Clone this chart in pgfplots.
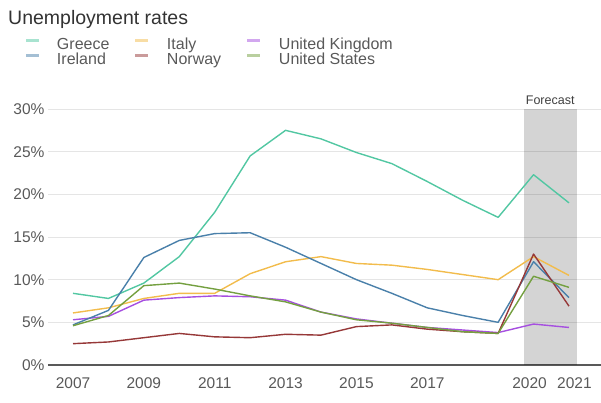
\documentclass[border=0pt]{standalone}
\usepackage{pgfplots}
\pgfplotsset{compat=1.18}
\usepackage{fontspec}
\setmainfont{Liberation Sans}
\definecolor{cGreece}{HTML}{52C7A2}
\definecolor{cIreland}{HTML}{4A80AA}
\definecolor{cItaly}{HTML}{F2BC4C}
\definecolor{cNorway}{HTML}{963838}
\definecolor{cUK}{HTML}{A64FE0}
\definecolor{cUS}{HTML}{74A040}
\begin{document}
\begin{tikzpicture}
\path[use as bounding box] (-48pt,-37pt) rectangle (553pt,365pt);
\node[anchor=base west, font=\fontsize{19.5}{20}\selectfont, text=black!80, inner sep=0pt] at (-40pt,340pt) {Unemployment rates};
\begin{axis}[
  scale only axis, width=553pt, height=256pt,
  xmin=2006.294, xmax=2021.904, ymin=0, ymax=30,
  clip=false,
  axis line style={draw=none},
  ytick={0,5,10,15,20,25,30},
  yticklabel={\pgfmathprintnumber{\tick}\%},
  xtick={2007,2009,2011,2013,2015,2017,2020,2021},
  xticklabels={2007,2009,2011,2013,2015,2017,{2020\hspace*{8pt}},{\hspace*{11pt}2021}},
  major tick length=0pt,
  ymajorgrids,
  grid style={color=black!10, line width=0.9pt},
  extra y ticks={0}, extra y tick labels={},
  extra y tick style={grid style={color=black!65, line width=1.8pt}},
  tick label style={font=\fontsize{15.5}{16}\selectfont, text=black!65},
  xticklabel style={yshift=-9pt},
  /pgf/number format/assume math mode=true,
  legend columns=3,
  legend style={at={(-0.0416,1.2793)}, anchor=north west, draw=none, fill=none,
    inner sep=0pt, outer sep=0pt, row sep=0pt, column sep=0pt,
    font=\fontsize{16}{16}\selectfont, text=black!65,
    nodes={inner sep=0pt, text height=12pt, text depth=3pt}},
  legend image code/.code={\draw[#1, line width=3pt, draw opacity=0.5] (0pt,4pt) -- (13pt,4pt);},
  every axis plot/.append style={line width=1.4pt, line join=round, no marks},
]
\fill[black, fill opacity=0.17] (axis cs:2019.72,0) rectangle (axis cs:2021.23,30);
\node[anchor=base, font=\fontsize{12.5}{13}\selectfont, text=black!75] at (axis cs:2020.47,30.55) {Forecast};

\addplot[cGreece] coordinates {(2007,8.4)(2008,7.8)(2009,9.6)(2010,12.7)(2011,17.9)(2012,24.5)(2013,27.5)(2014,26.5)(2015,24.9)(2016,23.6)(2017,21.5)(2018,19.3)(2019,17.3)(2020,22.3)(2021,19.0)};
\addlegendentry{\hspace*{16pt}\makebox[77pt][l]{Greece}}
\addplot[cItaly] coordinates {(2007,6.1)(2008,6.7)(2009,7.8)(2010,8.4)(2011,8.4)(2012,10.7)(2013,12.1)(2014,12.7)(2015,11.9)(2016,11.7)(2017,11.2)(2018,10.6)(2019,10.0)(2020,12.7)(2021,10.5)};
\addlegendentry{\hspace*{17pt}\makebox[79pt][l]{Italy}}
\addplot[cUK] coordinates {(2007,5.3)(2008,5.7)(2009,7.6)(2010,7.9)(2011,8.1)(2012,8.0)(2013,7.6)(2014,6.2)(2015,5.4)(2016,4.9)(2017,4.4)(2018,4.1)(2019,3.8)(2020,4.8)(2021,4.4)};
\addlegendentry{\hspace*{17pt}\makebox[120pt][l]{United Kingdom}}
\addplot[cIreland] coordinates {(2007,4.7)(2008,6.4)(2009,12.6)(2010,14.6)(2011,15.4)(2012,15.5)(2013,13.8)(2014,11.9)(2015,10.0)(2016,8.4)(2017,6.7)(2018,5.8)(2019,5.0)(2020,12.1)(2021,7.9)};
\addlegendentry{\hspace*{16pt}\makebox[77pt][l]{Ireland}}
\addplot[cNorway] coordinates {(2007,2.5)(2008,2.7)(2009,3.2)(2010,3.7)(2011,3.3)(2012,3.2)(2013,3.6)(2014,3.5)(2015,4.5)(2016,4.7)(2017,4.2)(2018,3.9)(2019,3.7)(2020,13.0)(2021,6.9)};
\addlegendentry{\hspace*{17pt}\makebox[79pt][l]{Norway}}
\addplot[cUS] coordinates {(2007,4.6)(2008,5.8)(2009,9.3)(2010,9.6)(2011,8.9)(2012,8.1)(2013,7.4)(2014,6.2)(2015,5.3)(2016,4.9)(2017,4.4)(2018,3.9)(2019,3.7)(2020,10.4)(2021,9.1)};
\addlegendentry{\hspace*{17pt}\makebox[120pt][l]{United States}}
\end{axis}
\end{tikzpicture}
\end{document}
